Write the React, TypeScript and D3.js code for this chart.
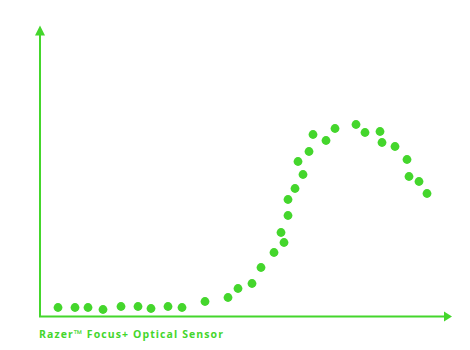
import React from "react";
import * as d3 from "d3";

const xValues = [18, 35, 48, 63, 81, 98, 111, 128, 142, 165, 188, 198, 212, 221, 234, 244, 241, 248, 248, 255, 263, 258, 269, 273, 286, 295, 316, 325, 340, 342, 355, 367, 369, 379, 387];
const yValues = [9, 9, 9, 7, 10, 10, 8, 10, 9, 15, 19, 28, 33, 49, 64, 74, 84, 101, 117, 128, 142, 155, 165, 182, 176, 188, 192, 184, 185, 174, 170, 157, 140, 135, 123];
const axisLabel = "Razer™ Focus+ Optical Sensor";

const GREEN = "#44d62c";

export default function App() {
  const W = 470, H = 350;
  const x = d3.scaleLinear().domain([0, 412]).range([40, 452]);
  const y = d3.scaleLinear().domain([0, 290]).range([316.5, 26.5]);
  const x0 = x(0), y0 = y(0);
  return (
    <svg width={W} height={H} style={{ position: "absolute", left: 0, top: 0 }}>
      <rect width={W} height={H} fill="#fff" />
      <line x1={x0} y1={y0} x2={x0} y2={y(282)} stroke={GREEN} strokeWidth={2} />
      <path d={`M${x0 - 5},${y(281)} L${x0},${y(291)} L${x0 + 5},${y(281)} Z`} fill={GREEN} />
      <line x1={x0 - 1} y1={y0} x2={x(404)} y2={y0} stroke={GREEN} strokeWidth={2} />
      <path d={`M${x(404)},${y0 - 5} L${x(412)},${y0} L${x(404)},${y0 + 5} Z`} fill={GREEN} />
      {xValues.map((v, i) => (
        <circle key={i} cx={x(v)} cy={y(yValues[i])} r={4.4} fill={GREEN} />
      ))}
      <text x={39} y={337.5} fill={GREEN} fontFamily="'Open Sans', sans-serif" fontWeight="bold" fontSize={10.5} textLength={184} lengthAdjust="spacing">
        {axisLabel}
      </text>
    </svg>
  );
}
